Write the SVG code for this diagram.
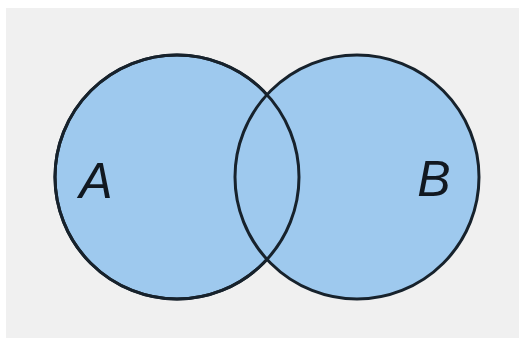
<svg xmlns="http://www.w3.org/2000/svg" width="519" height="338" viewBox="0 0 519 338">
  <style>
    .set { fill: #9ec9ee; fill-opacity: 1; stroke: #17222c; stroke-width: 3; }
    .outline { fill: none; stroke: #17222c; stroke-width: 3; }
    .label { font-family: "Liberation Sans", "DejaVu Sans", sans-serif; font-size: 50px; fill: #111820; text-anchor: middle; }
  </style>
  <!-- page -->
  <rect x="0" y="0" width="519" height="338" fill="#ffffff"/>
  <rect x="6" y="8" width="513" height="330" fill="#f0f0f0"/>

  <g id="setA">
    <circle class="set" cx="177" cy="177" r="122"/>
  </g>
  <g id="setB">
    <circle class="set" cx="357" cy="177" r="122"/>
    <!-- redraw A's outline so both rims show through the overlap -->
    <circle class="outline" cx="177" cy="177" r="122"/>
  </g>

  <text class="label" x="96" y="198" font-style="italic">A</text>
  <text class="label" x="434" y="196" font-style="italic">B</text>
</svg>
